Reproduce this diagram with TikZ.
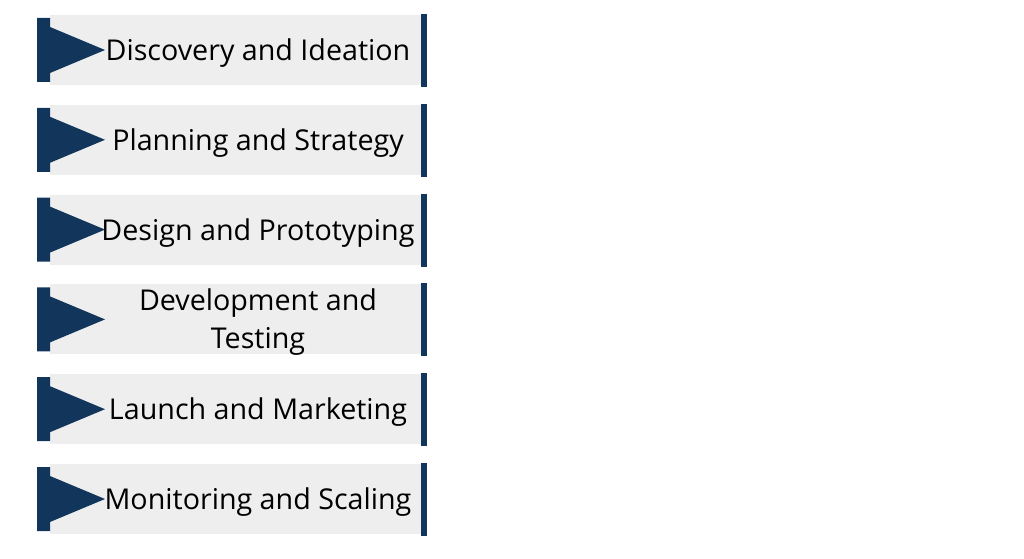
\documentclass[tikz,border=0pt]{standalone}
\usepackage{fontspec}
\setmainfont{Open Sans}
\definecolor{navy}{HTML}{12355B}
\definecolor{panel}{HTML}{EEEEEE}
\tikzset{
  steplabel/.style={font=\fontsize{21.5}{28.5}\selectfont, align=center, text=black, inner sep=0pt},
  panelfill/.style={fill=panel},
  markfill/.style={fill=navy}
}
\begin{document}
\begin{tikzpicture}[x=0.75pt,y=-0.75pt]
\useasboundingbox (0,0) rectangle (1024,559);

\foreach \i/\name/\txt in {0/disc/{Discovery and Ideation},
                           1/plan/{Planning and Strategy},
                           2/design/{Design and Prototyping},
                           3/dev/{Development and\\Testing},
                           4/launch/{Launch and Marketing},
                           5/monitor/{Monitoring and Scaling}}{
  \pgfmathsetmacro{\c}{50+89.8*\i}
  % grey panel
  \fill[panelfill] (50,\c-35) rectangle (421,\c+35);
  % right bar
  \fill[markfill] (421,\c-36) rectangle (427,\c+37);
  % arrow marker
  \fill[markfill] (37,\c-32) -- (50,\c-32) -- (50,\c-23) -- (105,\c) -- (50,\c+23)
                  -- (50,\c+32) -- (37,\c+32) -- cycle;
  \node[steplabel] (\name) at (258,\c+3) {\txt};
}

\end{tikzpicture}
\end{document}
